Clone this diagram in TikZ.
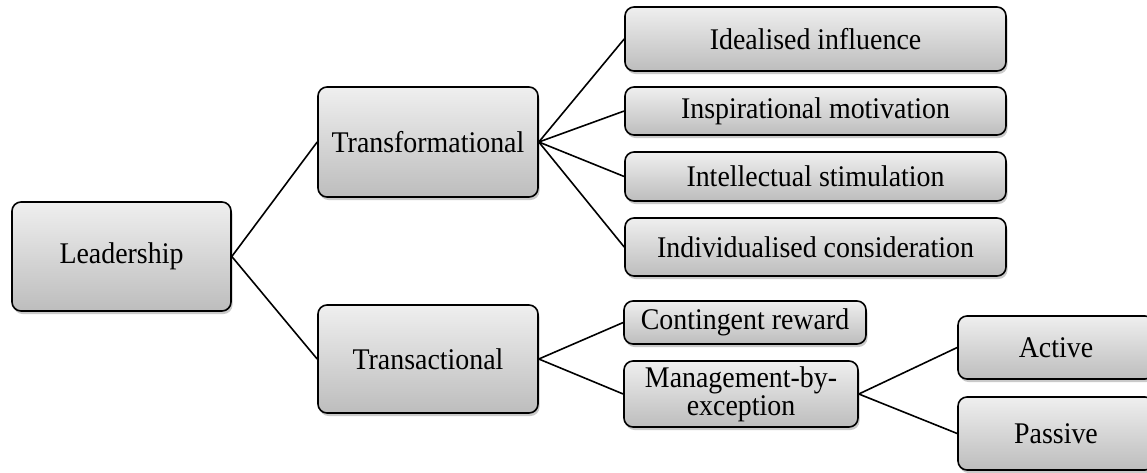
\documentclass[tikz,border=0pt]{standalone}
\usepackage{fontspec}
\setmainfont{Liberation Serif}[FakeStretch=0.93]
\usetikzlibrary{shadows}
\definecolor{boxtop}{HTML}{EFEFEF}
\definecolor{boxbot}{HTML}{BDBDBD}
\tikzset{
  box/.style={draw=black, line width=1.6pt, rounded corners=9pt,
    top color=boxtop, bottom color=boxbot, inner sep=2pt,
    font=\fontsize{30}{28}\selectfont, align=center,
    drop shadow={shadow xshift=1.5pt, shadow yshift=-3pt, opacity=0.35, fill=black!60}},
  link/.style={draw=black, line width=1.6pt}
}
\begin{document}
\begin{tikzpicture}[x=1pt,y=-1pt]
\useasboundingbox (0,0) rectangle (1147,472);
\node[box, minimum width=219pt, minimum height=109pt] (L) at (121.5,256.5) {Leadership};
\node[box, minimum width=220pt, minimum height=110pt] (TF) at (428,142) {Transformational};
\node[box, minimum width=220pt, minimum height=108pt] (TA) at (428,359) {Transactional};
\node[box, minimum width=381pt, minimum height=64pt] (II) at (815.5,39) {Idealised influence};
\node[box, minimum width=381pt, minimum height=48pt] (IM) at (815.5,111) {Inspirational motivation};
\node[box, minimum width=381pt, minimum height=49pt] (IS) at (815.5,176.5) {Intellectual stimulation};
\node[box, minimum width=381pt, minimum height=58pt] (IC) at (815.5,247) {Individualised consideration};
\node[box, minimum width=242pt, minimum height=43pt] (CR) at (745,322.5) {Contingent reward};
\node[box, minimum width=234pt, minimum height=66pt] (MB) at (741,394) {Management-by-\\exception};
\node[box, minimum width=196pt, minimum height=63pt] (AC) at (1056,347.5) {Active};
\node[box, minimum width=196pt, minimum height=73pt] (PA) at (1056,433.5) {Passive};
\draw[link] (L.east) -- (TF.west);
\draw[link] (L.east) -- (TA.west);
\draw[link] (TF.east) -- (II.west);
\draw[link] (TF.east) -- (IM.west);
\draw[link] (TF.east) -- (IS.west);
\draw[link] (TF.east) -- (IC.west);
\draw[link] (TA.east) -- (CR.west);
\draw[link] (TA.east) -- (MB.west);
\draw[link] (MB.east) -- (AC.west);
\draw[link] (MB.east) -- (PA.west);
\end{tikzpicture}
\end{document}
